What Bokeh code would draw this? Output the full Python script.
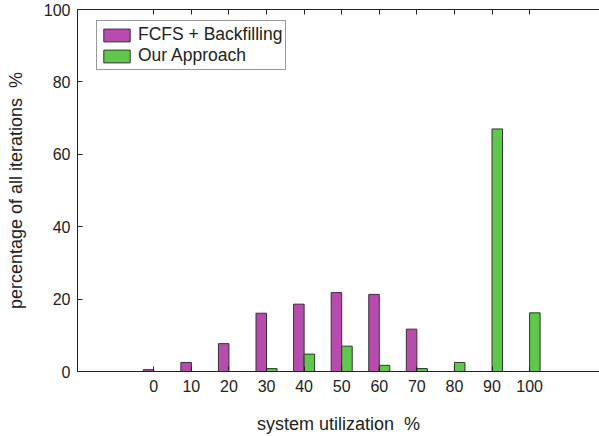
from bokeh.plotting import figure
from bokeh.models import ColumnDataSource, LinearAxis, FixedTicker, Legend, LegendItem, Range1d
from bokeh.transform import dodge
from bokeh.embed import file_html
from bokeh.resources import INLINE

utilization = [0, 10, 20, 30, 40, 50, 60, 70, 80, 90, 100]
fcfs_backfilling = [0.5, 2.5, 7.7, 16.1, 18.6, 21.8, 21.3, 11.7, 0, 0, 0]
our_approach = [0, 0, 0, 0.8, 4.8, 7.0, 1.7, 0.8, 2.5, 67.0, 16.2]
y_ticks = [0, 20, 40, 60, 80, 100]

FONT = "Liberation Sans"
PURPLE = "#B94BAE"
GREEN = "#5EC84B"

src = ColumnDataSource(dict(x=utilization, a=fcfs_backfilling, b=our_approach))

p = figure(width=599, height=436, output_backend="svg", toolbar_location=None,
           x_range=Range1d(-20.3, 118.6), y_range=Range1d(0, 100),
           x_axis_location=None, y_axis_location=None)
p.frame_width = 522
p.frame_height = 362
p.min_border_left = 77
p.min_border_right = 0
p.min_border_top = 9
p.min_border_bottom = 65
p.outline_line_color = None
p.grid.visible = False
p.background_fill_color = "white"
p.border_fill_color = "white"

r1 = p.vbar(x=dodge("x", -1.4, range=p.x_range), top="a", width=2.8, source=src,
            fill_color=PURPLE, line_color="#333333", line_width=1)
r2 = p.vbar(x=dodge("x", 1.4, range=p.x_range), top="b", width=2.8, source=src,
            fill_color=GREEN, line_color="#333333", line_width=1)

def style(ax):
    ax.axis_line_color = "#222222"
    ax.major_tick_line_color = "#222222"
    ax.major_tick_in = 5
    ax.major_tick_out = 0
    ax.minor_tick_line_color = None
    ax.major_label_text_font = FONT
    ax.major_label_text_font_size = "16px"
    ax.major_label_text_color = "#222222"
    ax.axis_label_text_font = FONT
    ax.axis_label_text_font_size = "18px"
    ax.axis_label_text_font_style = "normal"
    ax.axis_label_text_color = "#222222"

xb = LinearAxis(ticker=FixedTicker(ticks=utilization),
                axis_label="system utilization\u00a0\u00a0%")
style(xb)
xb.major_label_standoff = 8
xb.axis_label_standoff = 19
p.add_layout(xb, "below")

xt = LinearAxis(ticker=FixedTicker(ticks=utilization))
style(xt)
xt.major_label_overrides = {t: "" for t in utilization}
xt.major_label_standoff = 0
p.add_layout(xt, "above")

yl = LinearAxis(ticker=FixedTicker(ticks=y_ticks),
                axis_label="percentage of all iterations\u00a0\u00a0%")
style(yl)
yl.major_label_standoff = 7
yl.axis_label_standoff = 15
p.add_layout(yl, "left")

legend = Legend(items=[LegendItem(label="FCFS + Backfilling", renderers=[r1]),
                       LegendItem(label="Our Approach", renderers=[r2])],
                location=(19, 301))
legend.label_text_font = FONT
legend.label_text_font_size = "17.5px"
legend.label_text_color = "#222222"
legend.glyph_width = 33
legend.glyph_height = 16
legend.label_standoff = 5
legend.spacing = 0
legend.padding = 3
legend.margin = 0
legend.border_line_color = "#333333"
legend.label_height = 16
p.add_layout(legend, "center")

open("out.html", "w").write(file_html(p, INLINE))
